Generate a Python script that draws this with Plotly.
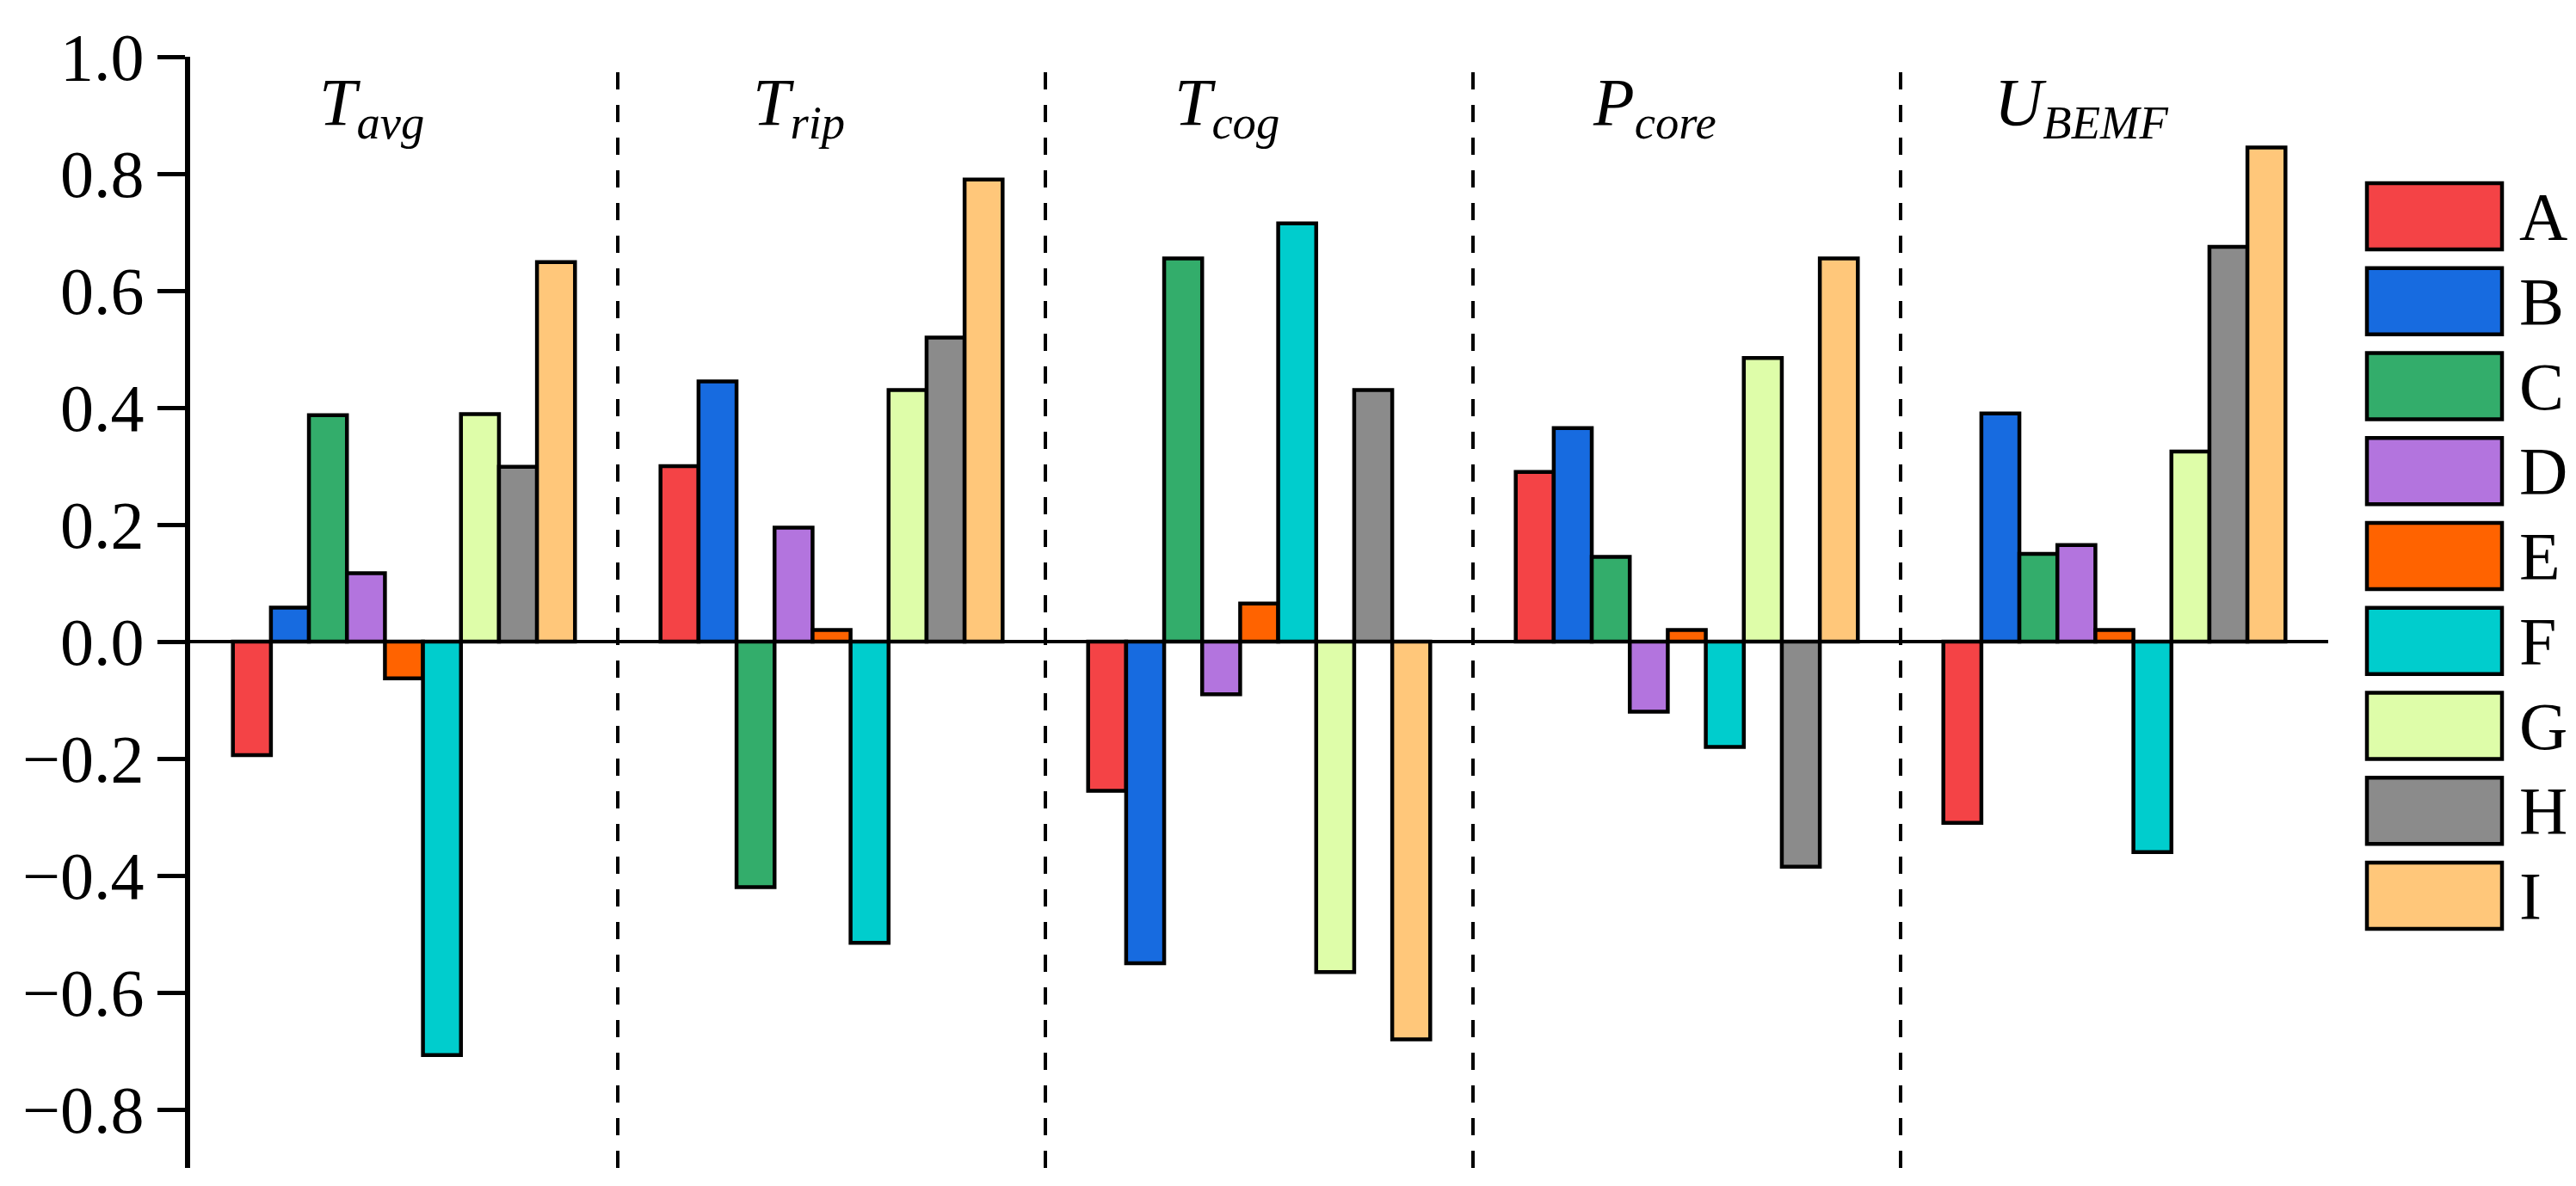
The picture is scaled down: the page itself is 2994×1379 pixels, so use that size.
import plotly.graph_objects as go

# groups (one per performance index) and the nine designs A..I
groups = ["<i>T</i><sub><i>avg</i></sub>", "<i>T</i><sub><i>rip</i></sub>",
          "<i>T</i><sub><i>cog</i></sub>", "<i>P</i><sub><i>core</i></sub>",
          "<i>U</i><sub><i>BEMF</i></sub>"]
series = ["A", "B", "C", "D", "E", "F", "G", "H", "I"]
colors = ["#F44346", "#176BE0", "#33AD6B", "#B374DE", "#FF6300",
          "#00CDCD", "#DEFDA9", "#8B8B8B", "#FFC77A"]

t_avg = [-0.194, 0.058, 0.387, 0.117, -0.063, -0.707, 0.389, 0.299, 0.649]
t_rip = [0.30, 0.445, -0.42, 0.195, 0.02, -0.515, 0.43, 0.52, 0.79]
t_cog = [-0.255, -0.55, 0.655, -0.09, 0.065, 0.715, -0.565, 0.43, -0.68]
p_core = [0.29, 0.365, 0.145, -0.12, 0.02, -0.18, 0.485, -0.385, 0.655]
u_bemf = [-0.31, 0.39, 0.15, 0.165, 0.02, -0.36, 0.325, 0.675, 0.845]

yticks = [-0.8, -0.6, -0.4, -0.2, 0.0, 0.2, 0.4, 0.6, 0.8, 1.0]

values = [t_avg, t_rip, t_cog, p_core, u_bemf]
xpos = list(range(len(groups)))

FONT = "Liberation Serif"

fig = go.Figure()
for i, name in enumerate(series):
    fig.add_trace(go.Bar(
        x=xpos, y=[g[i] for g in values], name=name,
        marker=dict(color=colors[i], line=dict(color="black", width=4.5)),
        showlegend=False,
    ))

# dashed separators between groups
for k in range(len(groups) - 1):
    fig.add_shape(type="line", xref="x", yref="paper", x0=k + 0.5, x1=k + 0.5,
                  y0=0, y1=1, line=dict(color="black", width=4, dash="20px,18px"))

# group titles
for k, lab in enumerate(groups):
    fig.add_annotation(x=k, y=0.915, xref="x", yref="y", text=lab, showarrow=False,
                       xshift=-38, font=dict(family=FONT, size=78, color="black"))

# legend drawn as boxes + letters (paper coords)
L, R, T, B = 213, 2698, 58, 1350
def px(x):
    return (x - L) / (R - L)
def py(y):
    return (B - y) / (B - T)

for i, name in enumerate(series):
    top = 205 + i * 98.75
    fig.add_shape(type="rect", xref="paper", yref="paper",
                  x0=px(2743), x1=px(2900), y0=py(top + 77), y1=py(top),
                  fillcolor=colors[i], line=dict(color="black", width=4.5))
    fig.add_annotation(xref="paper", yref="paper", x=px(2918), y=py(top + 38.5),
                       text=name, showarrow=False, xanchor="left", yanchor="middle",
                       font=dict(family=FONT, size=78, color="black"))

fig.update_layout(
    width=2994, height=1379,
    margin=dict(l=L, r=2994 - R, t=T, b=1379 - B),
    plot_bgcolor="white", paper_bgcolor="white",
    barmode="group", bargap=0.2, bargroupgap=0,
    font=dict(family=FONT, size=78, color="black"),
)
fig.update_xaxes(range=[-0.5, 4.5], showticklabels=False, showline=False,
                 showgrid=False, zeroline=False, ticks="")
fig.update_yaxes(range=[-0.9, 1.0], tickvals=yticks, tickformat=".1f",
                 showline=True, linecolor="black", linewidth=6,
                 ticks="outside", ticklen=32, tickwidth=5, tickcolor="black",
                 showgrid=False, zeroline=True, zerolinecolor="black",
                 zerolinewidth=4, tickfont=dict(family=FONT, size=78))

fig.write_html("out.html")
